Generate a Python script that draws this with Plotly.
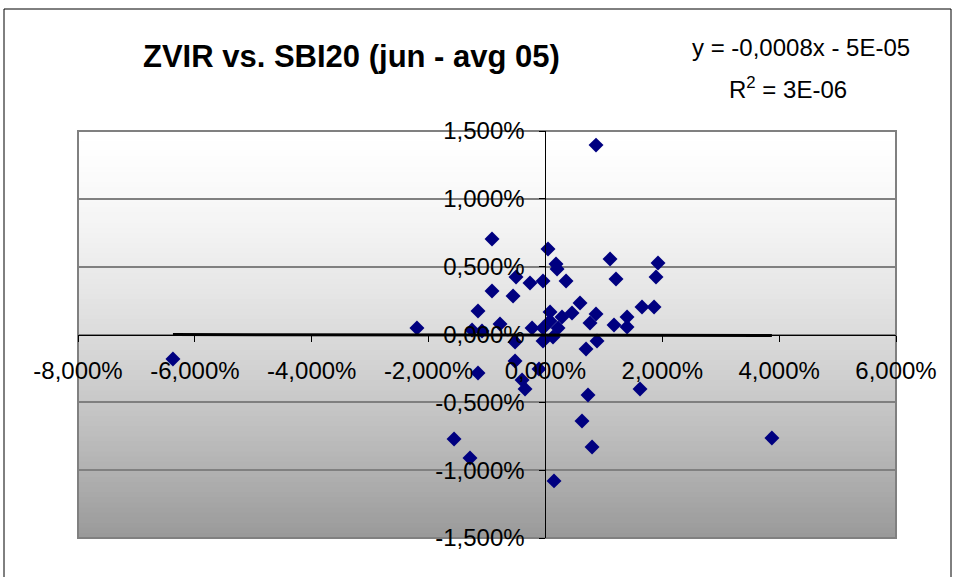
import plotly.graph_objects as go

# SBI20 daily return (x) vs ZVIR daily return (y), fractions
sbi20 = [0.00866, -0.00914, 0.00044, 0.01106, 0.01927, 0.00181, 0.00199, -0.00503, 0.01893,
         0.01208, -0.00264, -0.00041, 0.00353, -0.00914, -0.00554, 0.00592, -0.01154, 0.01653,
         0.01859, 0.00079, 0.00455, 0.00866, 0.00284, 0.01397, 0.00763, 0.00079, 0.01174,
         0.01397, 0.00216, -0.00229, -0.00041, -0.02199, -0.00777, -0.01256, -0.01085, 0.00130,
         -0.00041, 0.00883, -0.00520, 0.00695, -0.00520, -0.00110, -0.01154, -0.00400, -0.00349,
         0.00729, 0.01619, 0.00626, 0.00798, -0.01564, -0.01291, 0.00147, -0.06375, 0.03876]
zvir = [0.01396, 0.00704, 0.00630, 0.00556, 0.00527, 0.00519, 0.00483, 0.00424, 0.00424,
        0.00409, 0.00380, 0.00394, 0.00394, 0.00321, 0.00284, 0.00232, 0.00173, 0.00203,
        0.00203, 0.00166, 0.00158, 0.00151, 0.00129, 0.00129, 0.00085, 0.00099, 0.00070,
        0.00055, 0.00048, 0.00048, 0.00048, 0.00048, 0.00077, 0.00033, 0.00026, -0.00018,
        -0.00048, -0.00048, -0.00055, -0.00107, -0.00195, -0.00254, -0.00284, -0.00335, -0.00401,
        -0.00446, -0.00401, -0.00637, -0.00829, -0.00770, -0.00910, -0.01079, -0.00180, -0.00763]

trend_slope = -0.0008
trend_intercept = -5e-05

x_ticks = [-0.08, -0.06, -0.04, -0.02, 0.0, 0.02, 0.04, 0.06]
x_tick_labels = ["-8,000%", "-6,000%", "-4,000%", "-2,000%", "0,000%", "2,000%", "4,000%", "6,000%"]
y_ticks = [-0.015, -0.01, -0.005, 0.0, 0.005, 0.01, 0.015]
y_tick_labels = ["-1,500%", "-1,000%", "-0,500%", "0,000%", "0,500%", "1,000%", "1,500%"]

title_text = "<b>ZVIR vs. SBI20 (jun - avg 05)</b>"
eq_text = "y = -0,0008x - 5E-05"
r2_text = "R<sup>2</sup> = 3E-06"

FONT = "Liberation Sans, Arial, sans-serif"
XR = [-0.08, 0.06]
YR = [-0.015, 0.015]

fig = go.Figure()
fig.add_trace(go.Scatter(
    x=sbi20, y=zvir, mode="markers",
    marker=dict(symbol="diamond", size=11.5, color="#000080", line=dict(width=0)),
    showlegend=False, hoverinfo="x+y"))

tx = [min(sbi20), max(sbi20)]
ty = [trend_slope * v + trend_intercept for v in tx]
fig.add_trace(go.Scatter(x=tx, y=ty, mode="lines", line=dict(color="black", width=3),
                         showlegend=False, hoverinfo="skip"))

shapes = []
# gradient plot background
n = 80
for i in range(n):
    t0 = i / n
    t1 = (i + 1) / n
    tm = 1 - (t0 + t1) / 2  # 0 at top, 1 at bottom
    c = int(round(255 - 102 * tm ** 1.5))
    shapes.append(dict(type="rect", xref="paper", yref="paper", x0=0, x1=1, y0=t0, y1=t1 + 0.002,
                       fillcolor=f"rgb({c},{c},{c})", line=dict(width=0), layer="below"))
# plot border
shapes.append(dict(type="rect", xref="paper", yref="paper", x0=0, x1=1, y0=0, y1=1,
                   line=dict(color="#808080", width=2), fillcolor="rgba(0,0,0,0)", layer="below"))
# chart outer frame
shapes.append(dict(type="rect", xref="paper", yref="paper", x0=(4 - 78) / 818, x1=(951 - 78) / 818,
                   y0=(538 - 590) / 407, y1=(538 - 9) / 407,
                   line=dict(color="black", width=1), fillcolor="rgba(0,0,0,0)", layer="below"))

x_pos = (0 - YR[0]) / (YR[1] - YR[0])
y_pos = (0 - XR[0]) / (XR[1] - XR[0])

fig.update_layout(
    width=957, height=577,
    margin=dict(l=78, r=61, t=131, b=39),
    paper_bgcolor="white", plot_bgcolor="rgba(0,0,0,0)",
    separators=",.",
    font=dict(family=FONT, size=24, color="black"),
    shapes=shapes,
    xaxis=dict(range=XR, tickvals=x_ticks, ticktext=x_tick_labels, showgrid=False, zeroline=False,
               anchor="free", position=x_pos, side="bottom", showline=True, linecolor="black",
               linewidth=1, ticks="outside", ticklen=6, tickcolor="black",
               tickfont=dict(family=FONT, size=24), ticklabelstandoff=9),
    yaxis=dict(range=YR, tickvals=y_ticks, ticktext=y_tick_labels, showgrid=True,
               gridcolor="#808080", gridwidth=1.5, zeroline=False,
               anchor="free", position=y_pos, side="left", showline=True, linecolor="black",
               linewidth=1, ticks="outside", ticklen=6, tickcolor="black",
               tickfont=dict(family=FONT, size=24), ticklabelstandoff=10),
    annotations=[
        dict(text=title_text, xref="paper", yref="paper", x=(351 - 78) / 818, y=(538 - 57) / 407,
             showarrow=False, xanchor="center", yanchor="middle",
             font=dict(family=FONT, size=31, color="black")),
        dict(text=eq_text, xref="paper", yref="paper", x=(801 - 78) / 818, y=(538 - 47) / 407,
             showarrow=False, xanchor="center", yanchor="middle",
             font=dict(family=FONT, size=24, color="black")),
        dict(text=r2_text, xref="paper", yref="paper", x=(788 - 78) / 818, y=(538 - 88) / 407,
             showarrow=False, xanchor="center", yanchor="middle",
             font=dict(family=FONT, size=24, color="black")),
    ],
)

fig.write_html("out.html")
